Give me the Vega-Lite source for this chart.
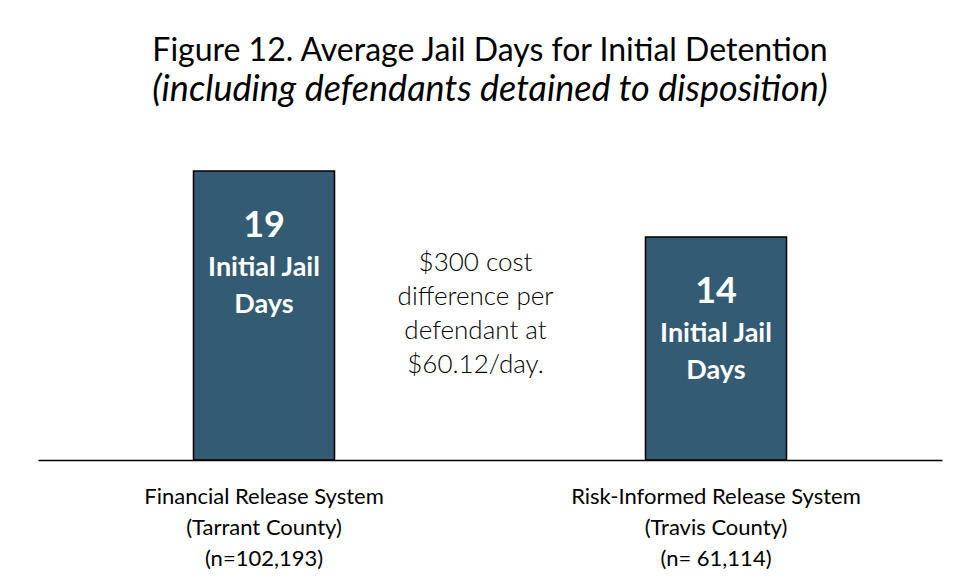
{
  "$schema": "https://vega.github.io/schema/vega-lite/v6.json",
  "width": 904,
  "height": 310,
  "autosize": {"type": "none"},
  "padding": {"left": 38, "top": 150, "right": 26, "bottom": 119},
  "background": "white",
  "config": {"view": {"stroke": null}, "font": "Lato"},
  "title": {
    "text": "Figure 12.  Average Jail Days for Initial Detention",
    "subtitle": "(including defendants detained to disposition)",
    "anchor": "middle",
    "font": "Lato",
    "fontSize": 32,
    "fontWeight": "normal",
    "color": "#000000",
    "subtitleFont": "Lato",
    "subtitleFontSize": 36,
    "subtitleFontStyle": "italic",
    "subtitleColor": "#000000",
    "subtitlePadding": 5,
    "offset": 41
  },
  "datasets": {
    "bars": [
      {"system": "Financial Release System|(Tarrant County)|(n=102,193)", "days": 18.65, "label": "19", "unit": "Initial Jail|Days"},
      {"system": "Risk-Informed Release System|(Travis County)|(n= 61,114)", "days": 14.39, "label": "14", "unit": "Initial Jail|Days"}
    ],
    "note": [
      {"system": "Financial Release System|(Tarrant County)|(n=102,193)", "days": 12.7, "note": "$300 cost|difference per|defendant at|$60.12/day."}
    ]
  },
  "layer": [
    {
      "data": {"name": "bars"},
      "mark": {"type": "bar", "fill": "#335b74", "stroke": "#000000", "strokeWidth": 1.5},
      "encoding": {
        "x": {
          "field": "system", "type": "nominal", "sort": null,
          "scale": {"paddingInner": 0.688, "paddingOuter": 0.344},
          "axis": {
            "title": null, "labelAngle": 0, "ticks": false,
            "domain": true, "domainColor": "#000000", "domainWidth": 1.5,
            "labelExpr": "split(datum.label, '|')",
            "labelFont": "Lato", "labelFontSize": 22, "labelLineHeight": 31,
            "labelColor": "#000000", "labelPadding": 26, "labelLimit": 400
          }
        },
        "y": {
          "field": "days", "type": "quantitative",
          "scale": {"domain": [0, 20]},
          "axis": null
        }
      }
    },
    {
      "data": {"name": "bars"},
      "mark": {"type": "text", "color": "white", "fontSize": 36, "fontWeight": "bold", "baseline": "middle", "dy": 55},
      "encoding": {
        "x": {"field": "system", "type": "nominal", "sort": null, "bandPosition": 0.5},
        "y": {"field": "days", "type": "quantitative"},
        "text": {"field": "label", "type": "nominal"}
      }
    },
    {
      "data": {"name": "bars"},
      "mark": {"type": "text", "color": "white", "fontSize": 27, "fontWeight": "bold", "baseline": "middle", "dy": 97, "lineBreak": "|", "lineHeight": 37},
      "encoding": {
        "x": {"field": "system", "type": "nominal", "sort": null, "bandPosition": 0.5},
        "y": {"field": "days", "type": "quantitative"},
        "text": {"field": "unit", "type": "nominal"}
      }
    },
    {
      "data": {"name": "note"},
      "mark": {"type": "text", "color": "#000000", "fontSize": 26, "fontWeight": 300, "baseline": "middle", "lineBreak": "|", "lineHeight": 34},
      "encoding": {
        "x": {"field": "system", "type": "nominal", "sort": null, "bandPosition": 2},
        "y": {"field": "days", "type": "quantitative"},
        "text": {"field": "note", "type": "nominal"}
      }
    }
  ]
}
